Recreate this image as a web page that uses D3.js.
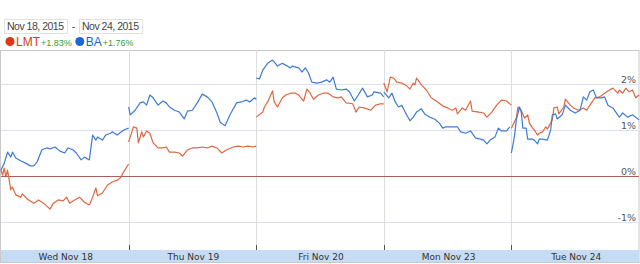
<!DOCTYPE html>
<html>
<head>
<meta charset="utf-8">
<script src="https://cdn.jsdelivr.net/npm/d3@7"></script>
<style>
  body { margin: 0; background: #fff; }
  svg { display: block; }
</style>
</head>
<body>
<svg width="640" height="264"></svg>
<script>
// days shown on the x axis
const days = ["Wed Nov 18", "Thu Nov 19", "Fri Nov 20", "Mon Nov 23", "Tue Nov 24"];
const yTicks = [-1, 0, 1, 2];

// [5-minute bar within the session (0..78), % change] per trading day
const lmt = [
    [[0,0.13],[1,0.02],[2,0.17],[3,-0.02],[4,0.13],[6,-0.30],[7,-0.24],[9,-0.41],[12,-0.46],[13,-0.39],
     [16,-0.50],[20,-0.59],[23,-0.52],[26,-0.59],[30,-0.72],[32,-0.59],[35,-0.52],[38,-0.54],[40,-0.46],[42,-0.59],
     [45,-0.52],[48,-0.46],[51,-0.57],[54,-0.63],[56,-0.46],[58,-0.26],[59,-0.43],[62,-0.37],[65,-0.20],[68,-0.13],
     [71,-0.09],[73,-0.04],[75,0.09],[78,0.26]],
    [[0,0.74],[2,0.96],[3,1.07],[5,1.04],[6,0.72],[8,0.96],[9,0.85],[11,0.98],[13,0.93],[15,0.72],
     [18,0.61],[21,0.61],[23,0.63],[25,0.52],[28,0.52],[31,0.50],[33,0.43],[36,0.57],[39,0.61],[42,0.61],
     [45,0.63],[48,0.61],[51,0.65],[54,0.61],[57,0.50],[60,0.57],[64,0.63],[67,0.65],[70,0.63],[73,0.65],
     [76,0.63],[78,0.65]],
    [[0,1.28],[4,1.39],[5,1.50],[7,1.61],[10,1.85],[11,1.61],[13,1.50],[16,1.70],[18,1.76],[21,1.80],
     [24,1.80],[26,1.76],[29,1.63],[31,1.89],[33,1.80],[35,1.67],[38,1.76],[41,1.80],[44,1.80],[47,1.72],
     [50,1.70],[52,1.72],[55,1.59],[59,1.57],[61,1.39],[63,1.50],[66,1.48],[70,1.43],[73,1.54],[76,1.57],
     [78,1.57]],
    [[0,2.02],[2,1.83],[4,2.15],[6,2.13],[8,2.04],[11,2.02],[14,1.96],[16,1.89],[18,2.02],[19,1.98],
     [20,2.13],[23,1.98],[26,1.87],[29,1.70],[33,1.61],[36,1.52],[39,1.48],[42,1.43],[44,1.48],[45,1.35],
     [48,1.48],[50,1.43],[53,1.63],[54,1.41],[58,1.39],[61,1.37],[63,1.28],[66,1.39],[69,1.54],[72,1.65],
     [75,1.63],[78,1.54]],
    [[0,1.04],[3,1.26],[4,1.50],[6,1.43],[8,1.26],[10,1.33],[11,1.15],[13,1.04],[14,1.00],[16,0.89],
     [17,0.93],[19,0.96],[21,1.07],[22,1.02],[25,1.22],[26,1.48],[28,1.50],[29,1.35],[32,1.50],[33,1.67],
     [36,1.54],[38,1.48],[41,1.43],[44,1.48],[46,1.43],[48,1.54],[51,1.70],[54,1.72],[57,1.80],[60,1.87],
     [62,1.91],[65,1.80],[66,1.87],[68,1.80],[70,1.91],[72,1.83],[74,1.87],[76,1.70],[78,1.76]]
];

const ba = [
    [[0,0.13],[2,0.28],[4,0.52],[6,0.41],[7,0.52],[9,0.39],[12,0.33],[15,0.28],[18,0.22],[20,0.22],
     [22,0.30],[25,0.57],[28,0.61],[30,0.59],[33,0.63],[36,0.54],[39,0.50],[41,0.61],[44,0.57],[46,0.50],
     [49,0.35],[51,0.41],[54,0.35],[56,0.89],[58,0.78],[59,0.85],[62,0.78],[64,0.89],[67,0.93],[68,0.96],
     [71,0.89],[75,1.00],[78,1.04]],
    [[0,1.50],[1,1.33],[4,1.43],[7,1.59],[9,1.61],[11,1.54],[13,1.76],[15,1.70],[18,1.54],[21,1.63],
     [23,1.59],[25,1.50],[28,1.43],[31,1.39],[34,1.24],[36,1.41],[39,1.43],[42,1.59],[45,1.78],[48,1.72],
     [51,1.61],[54,1.37],[56,1.17],[59,1.09],[62,1.33],[66,1.59],[69,1.61],[72,1.65],[74,1.61],[77,1.70],
     [78,1.67]],
    [[0,2.13],[2,2.11],[4,2.30],[7,2.45],[10,2.52],[11,2.48],[13,2.39],[16,2.45],[18,2.41],[21,2.35],
     [22,2.39],[26,2.35],[28,2.26],[30,2.35],[32,2.24],[34,2.04],[37,2.02],[40,2.04],[43,2.09],[45,2.04],
     [47,2.15],[49,1.89],[52,1.87],[55,1.89],[57,1.83],[60,1.63],[62,1.74],[65,1.91],[68,1.72],[71,1.76],
     [72,1.83],[76,1.80],[78,1.72]],
    [[0,1.83],[3,1.70],[5,1.80],[7,1.61],[9,1.50],[11,1.54],[13,1.39],[16,1.20],[18,1.28],[20,1.39],
     [23,1.46],[25,1.35],[28,1.28],[31,1.24],[34,1.15],[36,1.04],[38,1.07],[42,1.07],[45,1.07],[47,0.96],
     [50,0.93],[53,0.98],[56,0.83],[59,0.80],[61,0.78],[63,0.70],[65,0.78],[68,0.85],[70,1.04],[72,0.98],
     [75,0.98],[77,1.07]],
    [[0,0.50],[2,0.89],[3,1.22],[5,1.50],[6,1.39],[7,1.04],[9,1.04],[10,0.80],[13,0.80],[14,0.78],
     [16,0.70],[17,0.80],[19,0.80],[22,0.78],[24,1.00],[25,1.33],[27,1.35],[28,1.24],[31,1.33],[33,1.54],
     [36,1.43],[39,1.37],[42,1.43],[44,1.72],[46,1.65],[48,1.83],[50,1.87],[52,1.70],[55,1.70],[57,1.72],
     [59,1.54],[62,1.48],[65,1.33],[66,1.28],[68,1.37],[71,1.28],[74,1.33],[78,1.22]]
];

const series = [
    { name: "LMT", change: "+1.83%", color: "#df6740", dot: "#dc3912", data: lmt },
    { name: "BA",  change: "+1.76%", color: "#3d7bd5", dot: "#1a66d6", data: ba }
];

const barsPerDay = 78;

const svg = d3.select("svg"),
    width = +svg.attr("width"),
    height = +svg.attr("height");

const plotTop = 50, plotBottom = 250, bandBottom = 262;

const x = d3.scaleLinear()
    .domain([0, days.length * barsPerDay])
    .range([1, 639]);

const y = d3.scaleLinear()
    .domain([-1, 2])
    .range([222, 84]);

// date range boxes
const ranges = [{ text: "Nov 18, 2015", x: 4 }, { text: "Nov 24, 2015", x: 79 }];
const rangeG = svg.append("g");
rangeG.selectAll("rect")
    .data(ranges)
    .enter().append("rect")
    .attr("x", d => d.x + 0.5)
    .attr("y", 19.5)
    .attr("width", 63)
    .attr("height", 14)
    .attr("fill", "#fff")
    .attr("stroke", "#e2e2e2");
rangeG.selectAll("text")
    .data(ranges)
    .enter().append("text")
    .attr("x", d => d.x + 3)
    .attr("y", 30)
    .attr("font-family", "Liberation Sans, Arial, sans-serif")
    .attr("font-size", 10.5)
    .attr("textLength", 57)
    .attr("lengthAdjust", "spacing")
    .attr("fill", "#444")
    .text(d => d.text);
rangeG.append("text")
    .attr("x", 73.5)
    .attr("y", 30)
    .attr("font-family", "Liberation Sans, Arial, sans-serif")
    .attr("font-size", 10.5)
    .attr("fill", "#444")
    .attr("text-anchor", "middle")
    .text("-");

// legend
const legend = svg.append("g")
    .attr("font-family", "Liberation Sans, Arial, sans-serif");
let lx = 10;
series.forEach(s => {
    legend.append("circle")
        .attr("cx", lx)
        .attr("cy", 41.5)
        .attr("r", 4.5)
        .attr("fill", s.dot);
    const t = legend.append("text")
        .attr("x", lx + 6)
        .attr("y", 46)
        .attr("font-size", 12)
        .attr("fill", s.dot)
        .text(s.name);
    const w = t.node().getComputedTextLength();
    const c = legend.append("text")
        .attr("x", lx + 7 + w)
        .attr("y", 46)
        .attr("font-size", 9)
        .attr("fill", "#3d9b35")
        .text(s.change);
    lx += 7 + w + c.node().getComputedTextLength() + 8;
});

// frame
svg.append("rect")
    .attr("x", 0.5)
    .attr("y", plotTop + 0.5)
    .attr("width", 638.5)
    .attr("height", bandBottom - plotTop)
    .attr("fill", "#fff")
    .attr("stroke", "#c8c8c8");

// horizontal gridlines
svg.append("g")
    .selectAll("line")
    .data(yTicks.filter(d => d !== 0))
    .enter().append("line")
    .attr("x1", 1)
    .attr("x2", 639)
    .attr("y1", d => Math.round(y(d)) + 0.5)
    .attr("y2", d => Math.round(y(d)) + 0.5)
    .attr("stroke", "#dcdff0");

// day dividers
const bounds = d3.range(1, days.length);
svg.append("g")
    .selectAll("line")
    .data(bounds)
    .enter().append("line")
    .attr("x1", d => Math.round(x(d * barsPerDay)) + 0.5)
    .attr("x2", d => Math.round(x(d * barsPerDay)) + 0.5)
    .attr("y1", plotTop)
    .attr("y2", plotBottom)
    .attr("stroke", "#dedede");

// zero line
svg.append("line")
    .attr("x1", 1)
    .attr("x2", 639)
    .attr("y1", Math.round(y(0)) + 0.5)
    .attr("y2", Math.round(y(0)) + 0.5)
    .attr("stroke", "#a3605c");

// series, one path per trading day
const line = d3.line()
    .x(d => x(d[0]))
    .y(d => y(d[1]));

series.forEach(s => {
    svg.append("g")
        .selectAll("path")
        .data(s.data.map((day, i) => day.map(p => [i * barsPerDay + p[0], p[1]])))
        .enter().append("path")
        .attr("d", line)
        .attr("fill", "none")
        .attr("stroke", s.color)
        .attr("stroke-width", 1.2)
        .attr("stroke-linejoin", "round");
});

// y axis labels sitting on the gridlines
const yAxis = d3.axisLeft(y)
    .tickValues(yTicks)
    .tickSize(0)
    .tickPadding(0)
    .tickFormat(d => d + "%");
const yg = svg.append("g")
    .attr("transform", "translate(636,0)")
    .call(yAxis);
yg.select(".domain").remove();
yg.selectAll("text")
    .attr("dy", "-0.2em")
    .attr("font-family", "DejaVu Sans, Verdana, sans-serif")
    .attr("font-size", 9.5)
    .attr("fill", "#555");

// x axis band
svg.append("rect")
    .attr("x", 1)
    .attr("y", plotBottom)
    .attr("width", 638)
    .attr("height", bandBottom - plotBottom)
    .attr("fill", "#c6dcf4");

svg.append("g")
    .selectAll("line")
    .data(bounds)
    .enter().append("line")
    .attr("x1", d => Math.round(x(d * barsPerDay)) + 0.5)
    .attr("x2", d => Math.round(x(d * barsPerDay)) + 0.5)
    .attr("y1", plotBottom - 5)
    .attr("y2", plotBottom)
    .attr("stroke", "#555");

svg.append("g")
    .selectAll("text")
    .data(days)
    .enter().append("text")
    .attr("x", (d, i) => x((i + 0.5) * barsPerDay) + 1)
    .attr("y", 259.5)
    .attr("text-anchor", "middle")
    .attr("font-family", "DejaVu Sans, Verdana, sans-serif")
    .attr("font-size", 9)
    .attr("fill", "#333")
    .text(d => d);
</script>
</body>
</html>
